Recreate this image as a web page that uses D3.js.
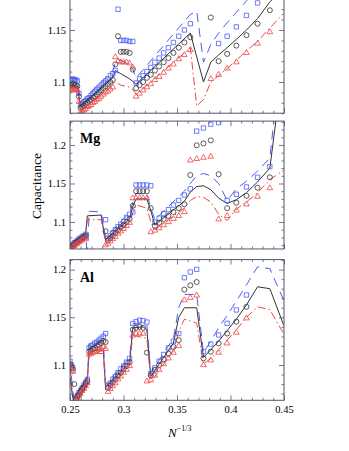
<!DOCTYPE html>
<html><head><meta charset="utf-8">
<script src="https://cdn.jsdelivr.net/npm/d3@7"></script>
<style>body{margin:0;background:#fff}svg{display:block}</style>
</head><body>
<svg id="c" width="349" height="451"></svg>
<script>
// ---------- data ----------
const N = [64,63,62,61,60,59,58,57,56,55,54,53,52,51,50,49,48,47,46,45,44,43,42,41,40,39,38,37,36,35,34,33,32,31,30,29,28,27,26,25,24,23,22,21,20,19,18,17,16,15,14,13,12,11];

const xTicksMajor = [0.25,0.3,0.35,0.4,0.45];
const xTickLabels = ["0.25","0.3","0.35","0.4","0.45"];

// panel 1
const p1Blue = [1.102,1.102,1.103,1.102,1.102,1.101,1.089,1.078,1.079,1.081,
  1.082,1.084,1.085,1.087,1.089,1.091,1.093,1.095,1.097,1.099,
  1.101,1.103,1.106,1.108,1.111,1.170,1.140,1.140,1.140,1.139,
  1.139,1.099,1.103,1.106,1.110,1.114,1.119,1.123,1.128,1.133,
  1.138,1.144,1.150,1.156,null,null,null,1.137,1.144,1.153,
  1.164,1.176,null,null];
const p1Black = [1.097,1.097,1.098,1.097,1.097,1.096,1.086,1.075,1.076,1.077,
  1.079,1.080,1.082,1.083,1.085,1.086,1.088,1.090,1.092,1.094,
  1.096,1.098,1.100,1.102,1.117,1.144,1.129,1.129,1.129,1.128,
  1.112,1.094,1.097,1.100,1.104,1.107,1.111,1.115,1.119,1.123,
  1.128,1.133,1.138,1.143,null,null,1.162,1.120,1.127,1.135,
  1.145,1.156,1.169,null];
const p1Red = [1.093,1.093,1.093,1.092,1.093,1.092,1.081,1.071,1.072,1.073,
  1.074,1.076,1.077,1.078,1.080,1.081,1.083,1.084,1.086,1.088,
  1.090,1.091,1.093,1.095,1.124,1.120,1.119,1.119,1.119,1.118,
  1.114,1.086,1.089,1.092,1.095,1.098,1.102,1.105,1.109,1.113,
  1.117,1.122,1.126,1.131,null,null,1.103,1.107,1.113,1.119,
  1.128,1.137,1.148,null];
const p1LineBlack = [[64,1.097],[59,1.096],[57,1.077],[41,1.104],[40,1.111],[38,1.108],[35,1.103],[33,1.098],[21,1.147],[19,1.100],[18,1.119],[17,1.126],[16,1.133],[15,1.141],[14,1.150],[13,1.161],[12,1.177],[11,1.19]];
const p1LineBlue = [[64,1.104],[59,1.103],[57,1.080],[41,1.111],[40,1.118],[39,1.122],[35,1.117],[34,1.112],[33,1.104],[21,1.165],[20,1.168],[19,1.119],[18,1.136],[17,1.147],[16,1.157],[15,1.167],[14,1.178],[13,1.19],[12,1.205]];
const p1LineRed = [[64,1.094],[59,1.093],[57,1.072],[41,1.097],[40,1.100],[38,1.097],[35,1.095],[34,1.093],[33,1.088],[21,1.133],[20,1.077],[19,1.083],[18,1.100],[17,1.106],[16,1.113],[15,1.121],[14,1.130],[13,1.139],[12,1.152],[11,1.166]];

// panel 2 (Mg)
const p2Blue = [1.067,1.069,1.071,1.073,1.074,1.076,1.078,1.079,1.081,1.082,
  1.084,null,null,null,null,null,null,null,null,null,
  1.103,1.079,1.082,1.086,1.090,1.094,1.097,1.101,1.106,1.110,
  1.113,1.148,1.148,1.148,1.148,1.147,1.100,1.105,1.111,1.116,
  1.122,1.128,1.135,1.143,1.218,1.222,1.227,1.229,1.128,1.136,
  1.1455,1.158,1.172,null];
const p2Black = [1.066,1.068,1.070,1.071,1.073,1.074,1.076,1.077,1.079,1.080,
  1.082,null,null,null,null,null,null,null,null,null,
  1.088,1.076,1.079,1.082,1.086,1.089,1.093,1.096,1.100,1.104,
  1.121,1.140,1.140,1.140,1.140,1.118,1.095,1.099,1.104,1.108,
  1.113,1.118,1.123,1.161,1.1996,1.202,1.206,1.162,1.118,1.125,
  1.134,1.1445,1.158,null];
const p2Red = [1.065,1.066,1.068,1.069,1.071,1.072,1.074,1.075,1.077,1.078,
  1.080,null,null,null,null,null,null,null,null,null,
  1.070,1.072,1.075,1.078,1.081,1.085,1.088,1.091,1.095,1.099,
  1.131,1.131,1.131,1.131,1.131,1.087,1.089,1.092,1.096,1.100,
  1.104,1.108,1.113,1.180,1.182,1.1835,1.185,1.1035,1.108,1.115,
  1.123,1.133,1.144,null];
const p2LineBlack = [[64,1.067],[54,1.084],[53,1.108],[46,1.109],[45,1.092],[44,1.077],[35,1.104],[34,1.120],[33,1.130],[30,1.130],[29,1.115],[28,1.096],[22,1.127],[21,1.139],[20,1.146],[19,1.147],[18,1.142],[17,1.131],[16,1.124],[15,1.129],[14,1.138],[13,1.152],[12,1.170],[11,1.31]];
const p2LineBlue = [[64,1.068],[54,1.086],[53,1.055],[52,1.114],[46,1.113],[45,1.096],[44,1.080],[35,1.112],[34,1.125],[33,1.137],[30,1.136],[29,1.118],[28,1.103],[22,1.140],[21,1.150],[20,1.160],[19,1.163],[18,1.160],[17,1.150],[16,1.128],[15,1.143],[14,1.153],[13,1.166],[12,1.183],[11,1.35]];
const p2LineRed = [[64,1.066],[54,1.081],[53,1.103],[46,1.103],[45,1.088],[44,1.074],[35,1.100],[34,1.112],[33,1.122],[30,1.118],[29,1.100],[28,1.090],[22,1.118],[21,1.128],[20,1.133],[19,1.132],[18,1.126],[17,1.110],[16,1.102],[15,1.117],[14,1.126],[13,1.138],[12,1.155],[11,1.167]];

// panel 3 (Al)
const p3Blue = [1.104,1.100,1.097,null,1.065,1.068,1.071,1.073,1.076,1.079,
  1.082,1.085,1.118,1.120,1.121,1.123,1.124,1.126,1.128,1.130,
  1.133,1.078,1.081,1.085,1.088,1.092,1.096,1.099,1.103,1.107,
  1.1435,1.1455,1.147,1.1465,1.145,1.091,1.097,1.104,1.111,1.118,
  1.125,1.133,1.1915,1.1975,1.2003,1.114,1.122,1.1315,1.1437,1.1577,
  1.1734,null,null,null];
const p3Black = [1.101,1.098,1.095,1.080,1.064,1.067,1.069,1.072,1.075,1.077,
  1.080,1.083,1.114,1.115,1.117,1.118,1.120,1.121,1.123,1.125,
  1.124,1.076,1.079,1.082,1.085,1.089,1.092,1.096,1.099,1.103,
  1.137,1.139,1.140,1.139,1.113,1.089,1.095,1.100,1.106,1.112,
  1.119,1.126,1.179,1.1835,1.187,1.107,1.114,1.1227,1.133,1.1454,
  1.161,null,null,null];
const p3Red = [1.099,1.096,1.093,null,1.063,1.065,1.068,1.070,1.073,1.075,
  1.078,1.081,1.111,1.112,1.113,1.114,1.115,1.116,1.117,1.119,
  1.117,1.072,1.075,1.078,1.081,1.085,1.088,1.092,1.095,1.099,
  1.131,1.133,1.133,1.133,1.083,1.084,1.089,1.095,1.101,1.107,
  1.113,1.120,1.168,1.1705,1.173,1.100,1.105,1.113,1.1227,1.134,
  1.149,null,null,null];
const p3LineBlack = [[64,1.087],[62,1.065],[61,1.063],[53,1.086],[52,1.114],[46,1.116],[45,1.115],[44,1.077],[35,1.102],[34,1.139],[31,1.140],[30,1.137],[29,1.088],[24,1.123],[23,1.150],[22,1.160],[20,1.160],[19,1.108],[18,1.116],[17,1.125],[16,1.136],[15,1.148],[14,1.163],[13,1.182],[12,1.180],[11,1.142]];
const p3LineBlue = [[64,1.104],[62,1.072],[61,1.064],[53,1.088],[52,1.122],[45,1.126],[44,1.080],[35,1.108],[34,1.143],[30,1.143],[29,1.092],[24,1.128],[23,1.160],[22,1.174],[20,1.174],[19,1.113],[18,1.125],[17,1.139],[16,1.152],[15,1.167],[14,1.184],[13,1.203],[12,1.201],[11,1.168]];
const p3LineRed = [[64,1.099],[62,1.066],[61,1.063],[53,1.082],[52,1.112],[45,1.112],[44,1.074],[35,1.099],[34,1.131],[30,1.128],[29,1.082],[24,1.115],[23,1.135],[22,1.148],[20,1.144],[19,1.101],[18,1.107],[17,1.116],[16,1.126],[15,1.137],[14,1.150],[13,1.161],[12,1.158],[11,1.133]];

const panelLabels = ["", "Mg", "Al"];

// ---------- layout ----------
const svg = d3.select("#c");
const L = 70, R = 284;
const FRAME = "#55556a";
const C_BLUE = "#4a5cf5", C_RED = "#ef4848", C_BLACK = "#333";
const FONT = "'Liberation Serif','Times New Roman',serif";

const xT = d3.scaleLinear().domain([0.25, 0.45]).range([L, R]);
const xN = d3.scalePow().exponent(-1/3).domain([64, 1/Math.pow(0.45,3)]).range([L, R]);

const panels = [
  {dom:[1.07,1.19], rng:[113.2,-11.6], blue:p1Blue, black:p1Black, red:p1Red, lb:p1LineBlue, lk:p1LineBlack, lr:p1LineRed},
  {dom:[1.065,1.231], rng:[248.95,121.1], blue:p2Blue, black:p2Black, red:p2Red, lb:p2LineBlue, lk:p2LineBlack, lr:p2LineRed},
  {dom:[1.063,1.2105], rng:[400.3,259.6], blue:p3Blue, black:p3Black, red:p3Red, lb:p3LineBlue, lk:p3LineBlack, lr:p3LineRed}
];

function rangeStep(a, b, s) { const out=[]; for (let v=Math.ceil(a/s-1e-9)*s; v<=b+1e-9; v+=s) out.push(+v.toFixed(4)); return out; }

panels.forEach((p, i) => {
  const y = d3.scaleLinear().domain(p.dom).range(p.rng);
  const top = p.rng[1], bot = p.rng[0];
  const g = svg.append("g");
  const cid = "clip" + i;
  svg.append("clipPath").attr("id", cid).append("rect")
    .attr("x", L).attr("y", top).attr("width", R - L).attr("height", bot - top);
  const plot = g.append("g").attr("clip-path", `url(#${cid})`);

  const line = d3.line().x(d => xN(d[0])).y(d => y(d[1]));
  plot.append("path").datum(p.lk).attr("d", line).attr("fill","none").attr("stroke", C_BLACK).attr("stroke-width", 1);
  plot.append("path").datum(p.lb).attr("d", line).attr("fill","none").attr("stroke", C_BLUE).attr("stroke-width", 1).attr("stroke-dasharray","9,6");
  plot.append("path").datum(p.lr).attr("d", line).attr("fill","none").attr("stroke", C_RED).attr("stroke-width", 1).attr("stroke-dasharray","8,3,1.5,3");

  const mk = (arr, type, size, color) => {
    const data = N.map((n, k) => [n, arr[k]]).filter(d => d[1] != null);
    plot.append("g").selectAll("path").data(data).join("path")
      .attr("transform", d => `translate(${xN(d[0])},${y(d[1])})`)
      .attr("d", d3.symbol().type(type).size(size))
      .attr("fill", "none").attr("stroke", color).attr("stroke-width", 0.8);
  };
  mk(p.blue, d3.symbolSquare, 19, C_BLUE);
  mk(p.black, d3.symbolCircle, 20, C_BLACK);
  mk(p.red, d3.symbolTriangle, 14, C_RED);

  // axes
  const yMajor = rangeStep(p.dom[0], p.dom[1], 0.05);
  const yMinor = rangeStep(p.dom[0], p.dom[1], 0.01).filter(v => !yMajor.some(m => Math.abs(m - v) < 1e-6));
  const xMinor = rangeStep(0.25, 0.45, 0.01).filter(v => !xTicksMajor.some(m => Math.abs(m - v) < 1e-6));
  const fmtY = d => String(+d.toFixed(2));

  g.append("g").attr("transform", `translate(${L},0)`)
    .call(d3.axisLeft(y).tickValues(yMajor).tickSize(-5).tickSizeOuter(0).tickPadding(4).tickFormat(fmtY));
  g.append("g").attr("transform", `translate(${L},0)`)
    .call(d3.axisLeft(y).tickValues(yMinor).tickSize(-2.5).tickSizeOuter(0).tickFormat(""));
  g.append("g").attr("transform", `translate(${R},0)`)
    .call(d3.axisRight(y).tickValues(yMajor).tickSize(-5).tickSizeOuter(0).tickFormat(""));
  g.append("g").attr("transform", `translate(${R},0)`)
    .call(d3.axisRight(y).tickValues(yMinor).tickSize(-2.5).tickSizeOuter(0).tickFormat(""));
  g.append("g").attr("transform", `translate(0,${bot})`)
    .call(d3.axisBottom(xT).tickValues(xTicksMajor).tickSize(-5).tickSizeOuter(0).tickPadding(5)
      .tickFormat((d, k) => i === 2 ? xTickLabels[k] : ""));
  g.append("g").attr("transform", `translate(0,${bot})`)
    .call(d3.axisBottom(xT).tickValues(xMinor).tickSize(-2.5).tickSizeOuter(0).tickFormat(""));
  g.append("g").attr("transform", `translate(0,${top})`)
    .call(d3.axisTop(xT).tickValues(xTicksMajor).tickSize(-5).tickSizeOuter(0).tickFormat(""));
  g.append("g").attr("transform", `translate(0,${top})`)
    .call(d3.axisTop(xT).tickValues(xMinor).tickSize(-2.5).tickSizeOuter(0).tickFormat(""));

  g.selectAll(".domain").remove();
  g.selectAll(".tick line").attr("stroke", FRAME).attr("stroke-width", 0.8);
  g.selectAll(".tick text").attr("fill", "#000").style("font-family", FONT).style("font-size", "10.5px");

  g.append("rect").attr("x", L).attr("y", top).attr("width", R - L).attr("height", bot - top)
    .attr("fill", "none").attr("stroke", FRAME).attr("stroke-width", 1);

  if (panelLabels[i]) {
    g.append("text").attr("x", 80).attr("y", top + 22).text(panelLabels[i])
      .style("font-family", FONT).style("font-weight", "bold").style("font-size", "14px");
  }
});

// axis titles
svg.append("text").attr("transform", "translate(41,186) rotate(-90)")
  .attr("text-anchor", "middle").style("font-family", FONT).style("font-size", "13.5px").text("Capacitance");
const xt = svg.append("text").attr("x", 168).attr("y", 437).style("font-family", FONT).style("font-size", "13px");
xt.append("tspan").style("font-style", "italic").text("N");
xt.append("tspan").attr("dy", -6).style("font-size", "8px").text("\u22121/3");
</script>
</body></html>
